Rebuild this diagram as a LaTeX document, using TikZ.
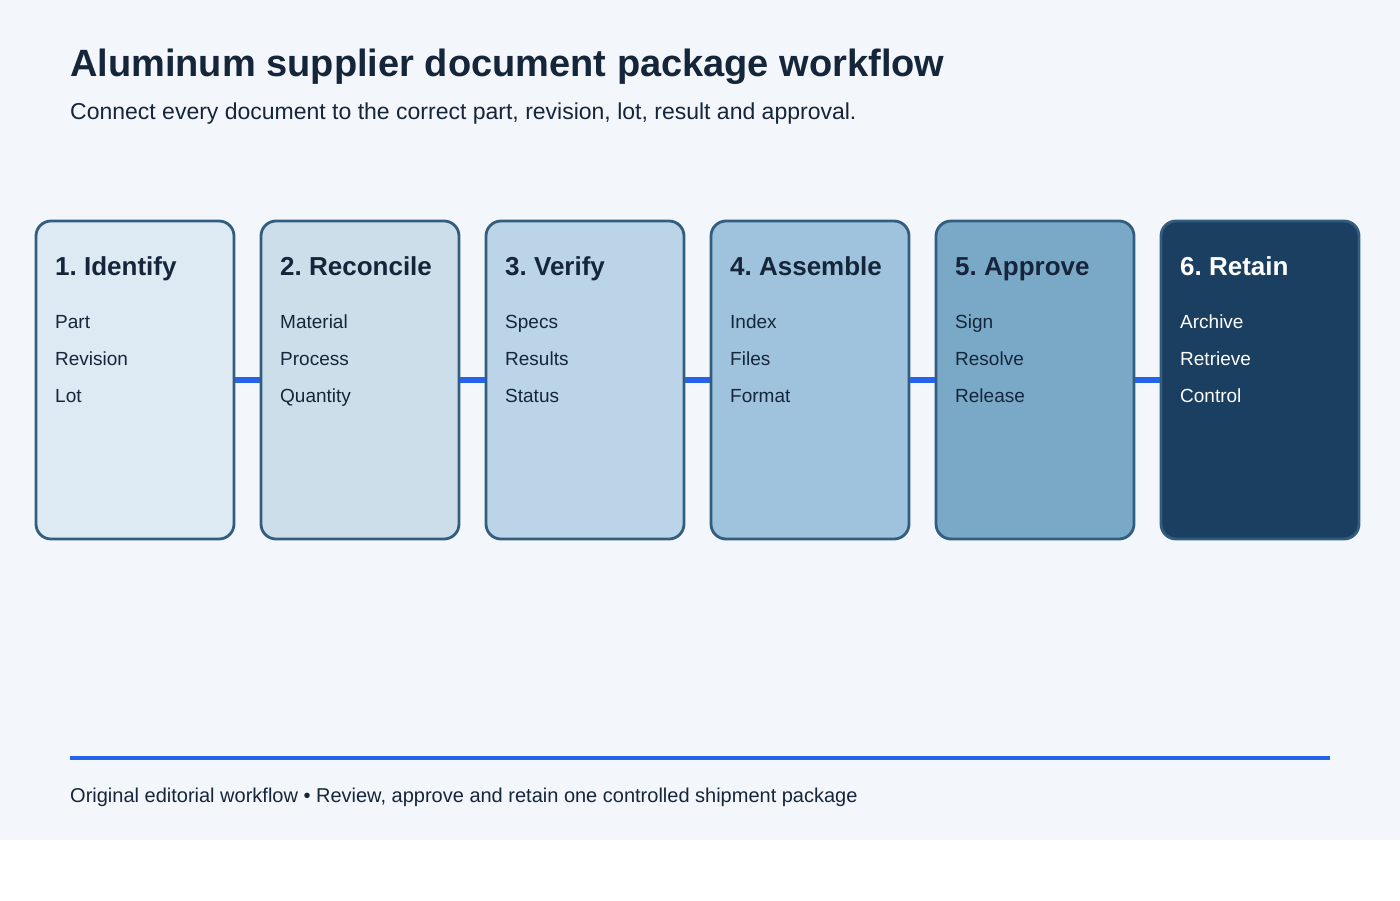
\documentclass[tikz,border=0pt]{standalone}
\usepackage{fontspec}
\setmainfont{Liberation Sans}
\frenchspacing
\definecolor{pagebg}{HTML}{F3F6FB}
\definecolor{inkdark}{HTML}{15263A}
\definecolor{edgeblue}{HTML}{335D7E}
\definecolor{linkblue}{HTML}{2563EB}
\definecolor{fillone}{HTML}{DDE9F3}
\definecolor{filltwo}{HTML}{CDDEEB}
\definecolor{fillthree}{HTML}{BCD4E7}
\definecolor{fillfour}{HTML}{9FC3DC}
\definecolor{fillfive}{HTML}{7AA9C8}
\definecolor{fillsix}{HTML}{1A3F60}
\tikzset{
  stagebox/.style = {draw = edgeblue, line width = 2.8pt, rounded corners = 15pt,
                     minimum width = 198pt, minimum height = 318pt, inner sep = 0pt},
  stagehead/.style = {anchor = base west, inner sep = 0pt, text = inkdark,
                      font = \fontsize{26}{30}\selectfont\bfseries},
  stageitem/.style = {anchor = base west, inner sep = 0pt, text = inkdark,
                      font = \fontsize{19}{22}\selectfont},
  link/.style = {draw = linkblue, line width = 6pt}
}
\begin{document}
\begin{tikzpicture}[x = 1pt, y = -1pt]
			\useasboundingbox (0,0) rectangle (1400,900);
			\fill [pagebg] (0,0) rectangle (1400,840);
			% heading
			\node (title) [anchor = base west, inner sep = 0pt, text = inkdark,
			  font = \fontsize{38}{42}\selectfont\bfseries] at (70,76)
			  {Aluminum supplier document package workflow};
			\node (subtitle) [anchor = base west, inner sep = 0pt, text = inkdark,
			  font = \fontsize{23}{27}\selectfont] at (70,119)
			  {Connect every document to the correct part, revision, lot, result and approval.};
			% stages
			\node (identify) [stagebox, fill = fillone] at (135,380) {};
			\node (reconcile) [stagebox, fill = filltwo] at (360,380) {};
			\node (verify) [stagebox, fill = fillthree] at (585,380) {};
			\node (assemble) [stagebox, fill = fillfour] at (810,380) {};
			\node (approve) [stagebox, fill = fillfive] at (1035,380) {};
			\node (retain) [stagebox, fill = fillsix] at (1260,380) {};
			% links
			\draw [link] (identify.east) -- (reconcile.west);
			\draw [link] (reconcile.east) -- (verify.west);
			\draw [link] (verify.east) -- (assemble.west);
			\draw [link] (assemble.east) -- (approve.west);
			\draw [link] (approve.east) -- (retain.west);
			% stage texts
			\node (identifyhead) [stagehead] at (55,275) {1. Identify};
			\node (identifya) [stageitem] at (55,328) {Part};
			\node (identifyb) [stageitem] at (55,365) {Revision};
			\node (identifyc) [stageitem] at (55,402) {Lot};
			\node (reconcilehead) [stagehead] at (280,275) {2. Reconcile};
			\node (reconcilea) [stageitem] at (280,328) {Material};
			\node (reconcileb) [stageitem] at (280,365) {Process};
			\node (reconcilec) [stageitem] at (280,402) {Quantity};
			\node (verifyhead) [stagehead] at (505,275) {3. Verify};
			\node (verifya) [stageitem] at (505,328) {Specs};
			\node (verifyb) [stageitem] at (505,365) {Results};
			\node (verifyc) [stageitem] at (505,402) {Status};
			\node (assemblehead) [stagehead] at (730,275) {4. Assemble};
			\node (assemblea) [stageitem] at (730,328) {Index};
			\node (assembleb) [stageitem] at (730,365) {Files};
			\node (assemblec) [stageitem] at (730,402) {Format};
			\node (approvehead) [stagehead] at (955,275) {5. Approve};
			\node (approvea) [stageitem] at (955,328) {Sign};
			\node (approveb) [stageitem] at (955,365) {Resolve};
			\node (approvec) [stageitem] at (955,402) {Release};
			\node (retainhead) [stagehead, text = white] at (1180,275) {6. Retain};
			\node (retaina) [stageitem, text = white] at (1180,328) {Archive};
			\node (retainb) [stageitem, text = white] at (1180,365) {Retrieve};
			\node (retainc) [stageitem, text = white] at (1180,402) {Control};
			% footer
			\coordinate (ruleleft) at (70,758);
			\coordinate (ruleright) at (1330,758);
			\draw [draw = linkblue, line width = 4pt] (ruleleft) -- (ruleright);
			\node (footer) [anchor = base west, inner sep = 0pt, text = inkdark,
			  font = \fontsize{20}{24}\selectfont] at (70,802)
			  {Original editorial workflow • Review, approve and retain one controlled shipment package};
		\end{tikzpicture}
\end{document}
